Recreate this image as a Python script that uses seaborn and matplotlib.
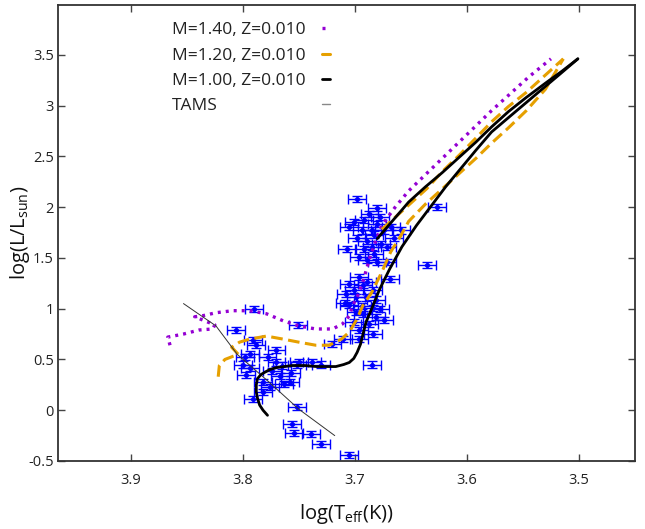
import matplotlib
matplotlib.use("Agg")
import matplotlib.pyplot as plt
import numpy as np
import pandas as pd
import seaborn as sns
from matplotlib.lines import Line2D
from matplotlib.ticker import FuncFormatter

# ---------------- data ----------------
# evolutionary track M=1.40, Z=0.010
m140_logt = [3.865, 3.867, 3.853, 3.839, 3.827, 3.825, 3.834, 3.843, 3.836, 3.824,
             3.809, 3.794, 3.779, 3.764, 3.750, 3.735, 3.720, 3.711, 3.705, 3.702,
             3.697, 3.693, 3.687, 3.681, 3.676, 3.664, 3.652, 3.637, 3.622, 3.607,
             3.592, 3.578, 3.563, 3.545, 3.525]
m140_logl = [0.64, 0.72, 0.75, 0.79, 0.80, 0.84, 0.88, 0.92, 0.93, 0.96,
             0.98, 0.98, 0.95, 0.88, 0.83, 0.80, 0.80, 0.85, 0.93, 1.03,
             1.14, 1.26, 1.49, 1.68, 1.82, 2.00, 2.16, 2.32, 2.48, 2.64,
             2.80, 2.95, 3.10, 3.28, 3.46]

# evolutionary track M=1.20, Z=0.010
m120_logt = [3.822, 3.821, 3.816, 3.809, 3.804, 3.810, 3.803, 3.794, 3.779, 3.764,
             3.750, 3.735, 3.723, 3.712, 3.705, 3.698, 3.693, 3.685, 3.676, 3.668,
             3.660, 3.652, 3.637, 3.622, 3.607, 3.592, 3.578, 3.563, 3.547, 3.530,
             3.514]
m120_logl = [0.33, 0.44, 0.50, 0.53, 0.55, 0.62, 0.67, 0.70, 0.73, 0.70,
             0.67, 0.64, 0.64, 0.70, 0.77, 0.90, 1.03, 1.16, 1.36, 1.56,
             1.70, 1.86, 2.03, 2.18, 2.33, 2.48, 2.63, 2.78, 2.95, 3.16,
             3.46]
m120_agb_logt = [3.676, 3.656, 3.636, 3.622, 3.607, 3.592, 3.578, 3.563, 3.547,
                 3.530, 3.514]
m120_agb_logl = [1.78, 1.98, 2.18, 2.35, 2.51, 2.68, 2.84, 2.99, 3.13, 3.30,
                 3.46]

# evolutionary track M=1.00, Z=0.010
m100_logt = [3.778, 3.782, 3.785, 3.787, 3.788, 3.788, 3.787, 3.784, 3.781, 3.776,
             3.770, 3.763, 3.756, 3.745, 3.734, 3.725, 3.717, 3.710, 3.705, 3.701,
             3.698, 3.695, 3.693, 3.690, 3.685, 3.678, 3.669, 3.658, 3.645, 3.632,
             3.619, 3.607, 3.592, 3.578, 3.562, 3.547, 3.532, 3.518, 3.501]
m100_logl = [-0.05, 0.00, 0.05, 0.12, 0.18, 0.25, 0.31, 0.35, 0.37, 0.40,
             0.42, 0.43, 0.44, 0.44, 0.43, 0.43, 0.43, 0.45, 0.47, 0.51,
             0.57, 0.65, 0.74, 0.87, 1.00, 1.19, 1.39, 1.61, 1.82, 2.01,
             2.20, 2.36, 2.56, 2.74, 2.89, 3.03, 3.17, 3.30, 3.46]
m100_agb_logt = [3.680, 3.666, 3.652, 3.637, 3.622, 3.607, 3.592, 3.578, 3.563,
                 3.547, 3.530, 3.515, 3.501]
m100_agb_logl = [1.69, 1.87, 2.05, 2.20, 2.34, 2.49, 2.64, 2.79, 2.94, 3.08,
                 3.22, 3.34, 3.46]

# terminal-age main sequence
tams_logt = [3.853, 3.824, 3.805, 3.779, 3.750, 3.718]
tams_logl = [1.05, 0.83, 0.55, 0.30, 0.01, -0.25]

# observed stars
obs_logt = [3.698, 3.680, 3.707, 3.701, 3.692, 3.680, 3.698, 3.689, 3.683, 3.674,
            3.668, 3.659, 3.685, 3.677, 3.692, 3.671, 3.689, 3.680, 3.671, 3.636,
            3.627, 3.705, 3.694, 3.685, 3.665, 3.696, 3.683, 3.678, 3.687,
            3.696, 3.705, 3.693, 3.684, 3.708, 3.699, 3.690, 3.681, 3.705, 3.694,
            3.684, 3.678, 3.669, 3.693, 3.681, 3.701, 3.696, 3.684, 3.711, 3.696,
            3.720, 3.685, 3.701, 3.689, 3.709, 3.699, 3.674, 3.687,
            3.790, 3.806, 3.751, 3.791, 3.788, 3.794, 3.770, 3.800, 3.794, 3.797,
            3.770, 3.765, 3.752, 3.738, 3.730, 3.774, 3.767, 3.758, 3.782, 3.791,
            3.782, 3.763, 3.776, 3.752, 3.756, 3.754, 3.739, 3.730, 3.705, 3.798,
            3.778, 3.757, 3.750]
obs_logl = [2.08, 1.99, 1.59, 1.85, 1.87, 1.83, 1.70, 1.67, 1.73, 1.77,
            1.80, 1.77, 1.61, 1.64, 1.59, 1.61, 1.48, 1.46, 1.46, 1.43,
            2.00, 1.80, 1.77, 1.77, 1.70, 1.51, 1.54, 1.90, 1.93,
            1.31, 1.24, 1.23, 1.18, 1.14, 1.11, 1.11, 1.09, 1.04, 1.03,
            1.01, 1.00, 1.29, 0.95, 0.92, 0.87, 0.79, 0.75, 0.70, 0.70,
            0.65, 0.45, 1.18, 1.26, 1.06, 0.97, 0.89, 0.85,
            1.00, 0.79, 0.84, 0.69, 0.64, 0.55, 0.59, 0.45, 0.42, 0.35,
            0.47, 0.44, 0.45, 0.47, 0.45, 0.39, 0.34, 0.28, 0.28, 0.11,
            0.18, 0.26, 0.23, 0.03, -0.14, -0.22, -0.23, -0.33, -0.44, 0.52,
            0.52, 0.37, 0.47]
teff_err = 0.008
lum_err = 0.03

labels = ["M=1.40, Z=0.010", "M=1.20, Z=0.010", "M=1.00, Z=0.010", "TAMS"]
x_ticks = [3.9, 3.8, 3.7, 3.6, 3.5]
y_ticks = [-0.5, 0, 0.5, 1, 1.5, 2, 2.5, 3, 3.5]

# ---------------- style ----------------
sns.set_theme(style="ticks")
plt.rcParams["font.family"] = ["Open Sans", "DejaVu Sans"]
plt.rcParams["mathtext.default"] = "regular"

PURPLE = "#9400d3"
ORANGE = "#e6a000"
BLACK = "#000000"
BLUE = "#0000ff"
DOTS = (0, (0.9, 1.5))
DASH = (0, (3.8, 1.8))

fig = plt.figure(figsize=(6.45, 5.29), dpi=100)
ax = fig.add_axes([58 / 645, 1 - 461 / 529, 577 / 645, 456 / 529])

# observations with error bars
ax.errorbar(obs_logt, obs_logl, xerr=teff_err, yerr=lum_err, fmt="none",
            ecolor=BLUE, elinewidth=1.0, capsize=3.5, capthick=1.0, zorder=2)
sns.scatterplot(x=obs_logt, y=obs_logl, ax=ax, color=BLUE, marker="D", s=12,
                edgecolor=BLUE, linewidth=0, zorder=3, legend=False)

# tracks
sns.lineplot(x=m140_logt, y=m140_logl, ax=ax, sort=False, estimator=None,
             color=PURPLE, lw=2.4, linestyle=DOTS, zorder=4)
sns.lineplot(x=m120_logt, y=m120_logl, ax=ax, sort=False, estimator=None,
             color=ORANGE, lw=2.2, linestyle=DASH, zorder=4)
sns.lineplot(x=m120_agb_logt, y=m120_agb_logl, ax=ax, sort=False, estimator=None,
             color=ORANGE, lw=2.2, linestyle=DASH, zorder=4)
sns.lineplot(x=m100_logt, y=m100_logl, ax=ax, sort=False, estimator=None,
             color=BLACK, lw=2.0, zorder=5)
sns.lineplot(x=m100_agb_logt, y=m100_agb_logl, ax=ax, sort=False, estimator=None,
             color=BLACK, lw=2.0, zorder=5)
sns.lineplot(x=tams_logt, y=tams_logl, ax=ax, sort=False, estimator=None,
             color="#333333", lw=0.7, zorder=4)

# axes
ax.set_xlim(3.965, 3.45)
ax.set_ylim(-0.5, 3.99)
ax.set_xticks(x_ticks)
ax.set_yticks(y_ticks)
fmt = FuncFormatter(lambda v, p: "%g" % v)
ax.xaxis.set_major_formatter(fmt)
ax.yaxis.set_major_formatter(fmt)
ax.tick_params(direction="in", length=5, width=1.0, color="#444444",
               top=True, right=True, labelsize=10.5, pad=9, labelcolor="#222222")
ax.tick_params(axis="y", pad=3)
for s in ax.spines.values():
    s.set_linewidth(1.3)
    s.set_color("#333333")
ax.set_xlabel("log(T$_{eff}$(K))", fontsize=14.5, labelpad=10, color="#111111")
ax.set_ylabel("log(L/L$_{sun}$)", fontsize=14.5, color="#111111")
ax.yaxis.set_label_coords(-0.045, 0.5)

# legend: texts left aligned, samples at the right (gnuplot style)
blank = [Line2D([], [], linestyle="none") for _ in labels]
leg1 = ax.legend(blank, labels, loc="upper left", bbox_to_anchor=(0.198, 0.962),
                 frameon=False, handlelength=0, handletextpad=0, borderpad=0,
                 borderaxespad=0, labelspacing=0.52, fontsize=12.5)
for t in leg1.get_texts():
    t.set_color("#222222")
ax.add_artist(leg1)
samples = [Line2D([], [], color=PURPLE, lw=2.4, linestyle=DOTS),
           Line2D([], [], color=ORANGE, lw=2.2),
           Line2D([], [], color=BLACK, lw=2.0),
           Line2D([], [], color="#888888", lw=1.0)]
ax.legend(samples, [" "] * 4, loc="upper left", bbox_to_anchor=(0.457, 0.962),
          frameon=False, handlelength=0.5, handletextpad=0, borderpad=0,
          borderaxespad=0, labelspacing=0.52, fontsize=12.5)

fig.savefig("out.png", dpi=100)
